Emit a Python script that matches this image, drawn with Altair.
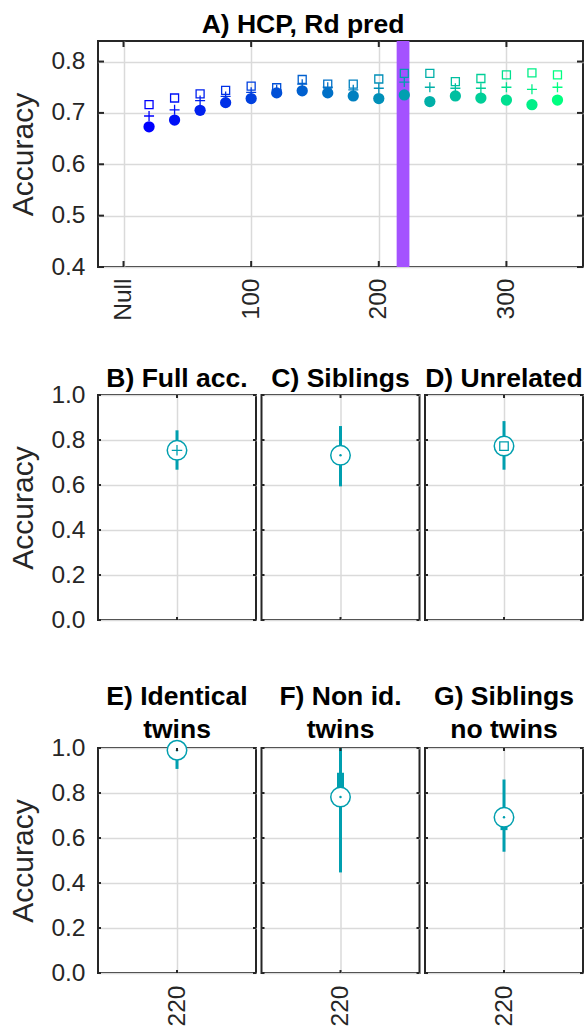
import altair as alt
import pandas as pd

# ---- data -----------------------------------------------------------------
# A) accuracy by number of predictors (0 = "Null")
n_pred = [20, 40, 60, 80, 100, 120, 140, 160, 180, 200, 220, 240, 260, 280, 300, 320, 340]
acc_dot = [0.673, 0.686, 0.705, 0.720, 0.728, 0.739, 0.743, 0.739, 0.733, 0.728,
           0.735, 0.722, 0.733, 0.729, 0.725, 0.716, 0.725]
acc_plus = [0.694, 0.706, 0.724, 0.732, 0.740, 0.745, 0.756, 0.750, 0.745, 0.748,
            0.760, 0.750, 0.748, 0.748, 0.750, 0.746, 0.750]
acc_square = [0.716, 0.729, 0.737, 0.744, 0.752, 0.749, 0.765, 0.756, 0.756, 0.766,
              0.777, 0.777, 0.761, 0.767, 0.774, 0.778, 0.774]
chosen_from = [214]
chosen_to = [224]
x_ticks_a = [0, 100, 200, 300]
y_ticks_a = [0.4, 0.5, 0.6, 0.7, 0.8]

# B-G) accuracy distributions at the chosen model (220 predictors)
panel_titles = [["B) Full acc."], ["C) Siblings"], ["D) Unrelated"],
                ["E) Identical", "twins"], ["F) Non id.", "twins"], ["G) Siblings", "no twins"]]
panel_x = [220, 220, 220, 220, 220, 220]
acc_median = [0.754, 0.732, 0.773, 0.990, 0.782, 0.692]
acc_low = [0.668, 0.594, 0.668, 0.907, 0.447, 0.539]
acc_high = [0.843, 0.862, 0.884, 1.000, 1.000, 0.860]
acc_q1 = [0.730, 0.710, 0.750, 0.970, 0.760, 0.635]
acc_q3 = [0.780, 0.760, 0.800, 1.000, 0.890, 0.720]
inner_marker = ["plus", "dot", "square", "dot", "dot", "dot"]
y_ticks_b = [0.0, 0.2, 0.4, 0.6, 0.8, 1.0]

# ---- style ----------------------------------------------------------------
FONT = "Liberation Sans"
INK = "#262626"
GRID = "#DADADA"
TEAL = "#009FAF"
PURPLE = "#A452FF"
PLUS = "M-1,0L1,0M0,-1L0,1"
TITLE_SIZE = 26.5

W_A, H_A = 485, 226
W_P, H_P = 158, 225


def axis(labels=True, angle=0, title=None, pad=13):
    return dict(labels=labels, domain=False, ticks=False, grid=True,
                gridColor=GRID, gridWidth=1.5, labelFont=FONT, labelFontSize=24.5,
                labelColor=INK, labelPadding=pad, labelAngle=angle,
                title=title, titleFont=FONT, titleFontSize=30, titleColor=INK,
                titleFontWeight="normal", titlePadding=12)


def frame_ticks(xs, ys, xenc, yenc, w, h, L):
    """Short inward tick marks on all four sides of a box."""
    dy = pd.DataFrame({"v": ys})
    dx = pd.DataFrame({"v": xs})
    base = dict(color=INK, strokeWidth=2)
    left = alt.Chart(dy).mark_rule(**base).encode(
        y=yenc("v"), x=alt.value(0), x2=alt.value(L))
    right = alt.Chart(dy).mark_rule(**base).encode(
        y=yenc("v"), x=alt.value(w - L), x2=alt.value(w))
    top = alt.Chart(dx).mark_rule(**base).encode(
        x=xenc("v"), y=alt.value(0), y2=alt.value(L))
    bottom = alt.Chart(dx).mark_rule(**base).encode(
        x=xenc("v"), y=alt.value(h - L), y2=alt.value(h))
    return [left, right, top, bottom]


def heading(lines, cx, last_baseline, line_gap=33):
    """Bold panel heading drawn just above the plot frame."""
    n = len(lines)
    out = []
    for k, line in enumerate(lines):
        y = last_baseline - (n - 1 - k) * line_gap
        out.append(alt.Chart(pd.DataFrame({"t": [line]})).mark_text(
            font=FONT, fontSize=TITLE_SIZE, fontWeight="bold", color="black",
            align="center", baseline="alphabetic").encode(
            text="t:N", x=alt.value(cx), y=alt.value(y)))
    return out


# ---- panel A --------------------------------------------------------------
x_scale_a = alt.Scale(domain=[-20, 360], nice=False, zero=False)
y_scale_a = alt.Scale(domain=[0.4, 0.84], nice=False, zero=False)
x_axis_a = alt.Axis(values=x_ticks_a, labelExpr="datum.value == 0 ? 'Null' : datum.label",
                    **axis(angle=-90, pad=11))
y_axis_a = alt.Axis(values=y_ticks_a, format=".1f", **axis(title="Accuracy"))


def xa(f):
    return alt.X(f, type="quantitative", scale=x_scale_a, axis=x_axis_a)


def ya(f):
    return alt.Y(f, type="quantitative", scale=y_scale_a, axis=y_axis_a)


df_a = pd.DataFrame({"n": n_pred, "dot": acc_dot, "plus": acc_plus, "sq": acc_square})
color_a = alt.Color("n:Q", legend=None,
                    scale=alt.Scale(domain=[20, 340], range=["#0000FF", "#00FF80"],
                                    interpolate="rgb"))

band = alt.Chart(pd.DataFrame({"a": chosen_from, "b": chosen_to})).mark_rect(
    color=PURPLE).encode(x=xa("a"), x2="b", y=alt.value(0), y2=alt.value(H_A))
dots = alt.Chart(df_a).mark_point(shape="circle", filled=True, size=127, opacity=1).encode(
    x=xa("n"), y=ya("dot"), color=color_a)
pluses = alt.Chart(df_a).mark_point(shape=PLUS, filled=False, size=100, strokeWidth=1.3,
                                    opacity=1).encode(x=xa("n"), y=ya("plus"), color=color_a)
squares = alt.Chart(df_a).mark_point(shape="square", filled=False, size=64, strokeWidth=1.3,
                                     opacity=1).encode(x=xa("n"), y=ya("sq"), color=color_a)

panel_a = alt.layer(
    band, dots, pluses, squares,
    *frame_ticks(x_ticks_a, y_ticks_a, xa, ya, W_A, H_A, 6),
    *heading(["A) HCP, Rd pred"], 205, -8.5),
).properties(width=W_A, height=H_A)


# ---- panels B-G -----------------------------------------------------------
def panel(i, show_y, show_x):
    x_scale = alt.Scale(domain=[210, 230], nice=False, zero=False)
    y_scale = alt.Scale(domain=[0, 1], nice=False, zero=False)
    x_axis = alt.Axis(values=[220], **axis(labels=show_x, angle=-90, pad=12))
    y_axis = alt.Axis(values=y_ticks_b, format=".1f",
                      **axis(labels=show_y, title="Accuracy" if show_y else None))

    def xe(f):
        return alt.X(f, type="quantitative", scale=x_scale, axis=x_axis)

    def ye(f):
        return alt.Y(f, type="quantitative", scale=y_scale, axis=y_axis)

    d = pd.DataFrame({"x": [panel_x[i]], "med": [acc_median[i]], "lo": [acc_low[i]],
                      "hi": [acc_high[i]], "q1": [acc_q1[i]], "q3": [acc_q3[i]]})
    whisker = alt.Chart(d).mark_rule(color=TEAL, strokeWidth=3).encode(
        x=xe("x"), y=ye("lo"), y2="hi")
    box = alt.Chart(d).mark_rule(color=TEAL, strokeWidth=7).encode(
        x=xe("x"), y=ye("q1"), y2="q3")
    ring = alt.Chart(d).mark_point(shape="circle", filled=True, fill="white", stroke=TEAL,
                                   strokeWidth=1.5, size=380, opacity=1).encode(
        x=xe("x"), y=ye("med"))
    kind = inner_marker[i]
    if kind == "plus":
        inner = alt.Chart(d).mark_point(shape=PLUS, filled=False, color=TEAL, size=110,
                                        strokeWidth=1.3, opacity=1)
    elif kind == "square":
        inner = alt.Chart(d).mark_point(shape="square", filled=False, color=TEAL, size=72,
                                        strokeWidth=1.3, opacity=1)
    else:
        inner = alt.Chart(d).mark_point(shape="circle", filled=True, color=TEAL, size=6,
                                        opacity=1)
    inner = inner.encode(x=xe("x"), y=ye("med"))
    lines = panel_titles[i]
    last = -8 if len(lines) == 1 else -10
    return alt.layer(
        whisker, box, ring, inner,
        *frame_ticks([220], y_ticks_b, xe, ye, W_P, H_P, 3),
        *heading(lines, W_P / 2, last),
    ).properties(width=W_P, height=H_P)


row_b = alt.hconcat(panel(0, True, False), panel(1, False, False), panel(2, False, False),
                    spacing=5.5, bounds="flush")
row_e = alt.hconcat(panel(3, True, True), panel(4, False, True), panel(5, False, True),
                    spacing=5.5, bounds="flush")

top_block = alt.vconcat(panel_a, row_b, spacing=43)
chart = alt.vconcat(top_block, row_e, spacing=50).properties(
    padding={"left": 7, "top": 10, "right": 0, "bottom": 0},
    background="white",
).configure_view(stroke=INK, strokeWidth=2)

chart.save("out.html", embed_options={"renderer": "svg", "actions": False})
